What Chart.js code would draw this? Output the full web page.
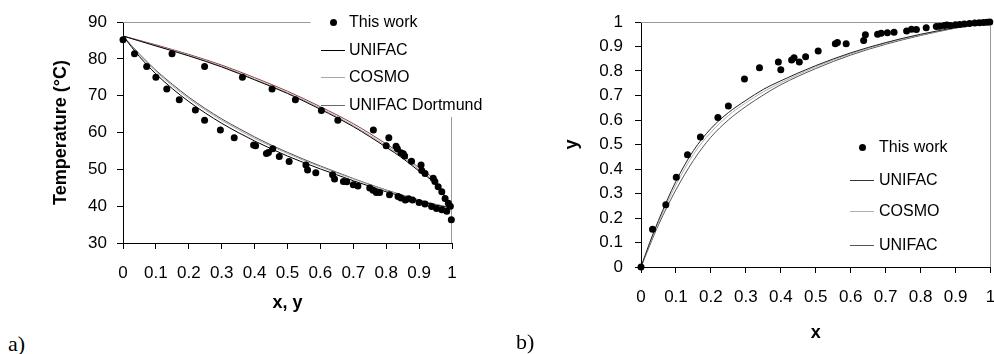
<!DOCTYPE html>
<html>
<head>
<meta charset="utf-8">
<script src="https://cdn.jsdelivr.net/npm/chart.js@4.4.0/dist/chart.umd.min.js"></script>
<style>
body{margin:0;background:#fff;width:994px;height:354px;overflow:hidden;position:relative;font-family:"Liberation Sans",Arial,sans-serif;}
#ca{position:absolute;left:0;top:0;}
#cb{position:absolute;left:490px;top:0;}
.it{position:absolute;white-space:nowrap;font-size:16px;line-height:18px;color:#000;}
.ln{position:absolute;height:1px;width:24px;}
.dt{position:absolute;width:7px;height:7px;border-radius:50%;background:#000;}
.pl{position:absolute;font-family:"Liberation Serif","Times New Roman",serif;font-size:22px;line-height:22px;}
</style>
</head>
<body>
<canvas id="ca" width="470" height="320"></canvas>
<canvas id="cb" width="504" height="354"></canvas>
<div class="pl" style="left:8px;top:333px">a)</div>
<div class="pl" style="left:516px;top:331px">b)</div>
<div id="legends"></div>
<script>
// ---- data: a) T-x-y diagram ----
var tickX = ['0','0.1','0.2','0.3','0.4','0.5','0.6','0.7','0.8','0.9','1'];
var tickT = ['30','40','50','60','70','80','90'];
var tickY = ['0','0.1','0.2','0.3','0.4','0.5','0.6','0.7','0.8','0.9','1'];

var liqX = [0,0.035,0.072,0.100,0.133,0.171,0.220,0.248,0.296,0.338,0.397,0.403,0.436,0.442,0.455,0.475,0.505,0.556,0.561,0.586,0.637,0.643,0.670,0.680,0.700,0.714,0.750,0.760,0.770,0.780,0.810,0.836,0.845,0.858,0.868,0.880,0.900,0.918,0.938,0.953,0.969,0.984,0.998];
var liqT = [85.2,81.4,77.9,75.0,71.8,68.9,66.1,63.3,60.7,58.6,56.6,56.4,54.3,54.6,55.6,53.5,52.1,51.2,49.8,49.1,48.5,47.4,46.7,46.6,45.8,45.5,44.9,44.3,43.7,43.7,43.1,42.6,42.2,41.7,42.0,41.7,41.0,40.6,39.9,39.4,39.0,38.6,36.3];
var vapY = [0.149,0.248,0.363,0.453,0.524,0.603,0.653,0.761,0.808,0.800,0.830,0.834,0.845,0.852,0.856,0.877,0.906,0.908,0.918,0.943,0.948,0.958,0.969,0.979,0.989,0.995];
var vapT = [81.4,77.9,75.0,71.8,68.9,66.0,63.3,60.7,58.6,56.4,56.3,55.6,54.5,54.2,53.6,52.2,51.2,49.7,48.9,47.6,46.7,45.3,43.9,42.1,40.8,40.0];

var bubX = [0,0.05,0.1,0.15,0.2,0.25,0.3,0.35,0.4,0.45,0.5,0.55,0.6,0.65,0.7,0.75,0.8,0.85,0.9,0.95,1];
var bubUnifac = [86.2,80.6,75.9,71.9,68.4,65.3,62.5,60.0,57.7,55.6,53.6,51.8,50.1,48.5,46.9,45.4,43.9,42.6,41.4,40.3,39.5];
var bubCosmo = [86.2,81.1,76.6,72.7,69.2,66.1,63.3,60.8,58.4,56.3,54.3,52.4,50.7,49.0,47.4,45.8,44.3,42.9,41.6,40.5,39.5];
var bubDortmund = [86.2,81.3,76.9,73.1,69.6,66.5,63.7,61.2,58.8,56.6,54.6,52.7,50.9,49.2,47.5,45.9,44.4,43.0,41.7,40.5,39.5];

var dewX = [0,0.1,0.2,0.3,0.4,0.5,0.6,0.7,0.8,0.85,0.9,0.95,1];
var dewUnifac = [86.2,83.5,80.8,77.8,74.3,70.6,66.3,61.6,56.0,53.0,49.5,46.0,39.5];
var dewCosmo = [86.2,83.6,81.0,78.0,74.5,70.8,66.6,61.9,56.4,53.4,49.9,46.3,39.5];
var dewDortmund = [86.2,83.8,81.2,78.3,74.9,71.2,67.0,62.4,56.9,53.9,50.4,46.8,39.5];

// ---- data: b) x-y diagram ----
var expX = [0,0.033,0.071,0.101,0.133,0.170,0.220,0.250,0.296,0.339,0.393,0.400,0.431,0.438,0.453,0.471,0.507,0.556,0.562,0.587,0.637,0.642,0.677,0.687,0.705,0.724,0.760,0.774,0.788,0.816,0.845,0.855,0.868,0.875,0.885,0.900,0.912,0.925,0.940,0.955,0.968,0.980,0.990,0.998];
var expY = [0,0.154,0.254,0.366,0.458,0.531,0.610,0.657,0.767,0.813,0.837,0.805,0.845,0.854,0.837,0.858,0.882,0.911,0.916,0.911,0.925,0.948,0.950,0.954,0.956,0.958,0.963,0.970,0.969,0.977,0.982,0.983,0.986,0.988,0.986,0.989,0.990,0.992,0.994,0.996,0.997,0.998,0.999,1.000];

var eqX = [0,0.025,0.05,0.1,0.15,0.2,0.25,0.3,0.35,0.4,0.5,0.6,0.7,0.8,0.9,1];
var eqUnifac = [0,0.1,0.19,0.35,0.475,0.565,0.63,0.68,0.725,0.76,0.822,0.874,0.916,0.95,0.977,1];
var eqCosmo = [0,0.095,0.182,0.335,0.46,0.55,0.618,0.67,0.715,0.752,0.817,0.87,0.913,0.948,0.976,1];
var eqDortmund = [0,0.088,0.172,0.315,0.435,0.53,0.6,0.655,0.702,0.744,0.81,0.865,0.909,0.945,0.975,1];

function pts(xs, ys){
  return xs.map(function(v, i){ return {x: v, y: ys[i]}; });
}

Chart.defaults.font.family = '"Liberation Sans", Arial, sans-serif';
Chart.defaults.font.size = 17;
Chart.defaults.color = '#000';

var framePlugin = {
  id: 'frame',
  beforeDatasetsDraw: function(chart, args, o){
    var ctx = chart.ctx, ca = chart.chartArea;
    var xs = chart.scales.x, ys = chart.scales.y;
    ctx.save();
    ctx.strokeStyle = o.color;
    ctx.lineWidth = 1;
    ctx.beginPath();
    ctx.moveTo(ca.left, Math.round(ca.top) + 0.5);
    ctx.lineTo(o.topTo == null ? ca.right : xs.getPixelForValue(o.topTo), Math.round(ca.top) + 0.5);
    var rx = Math.round(ca.right) - 0.5;
    ctx.moveTo(rx, o.rightFrom == null ? ca.top : ys.getPixelForValue(o.rightFrom));
    ctx.lineTo(rx, ca.bottom);
    ctx.stroke();
    ctx.restore();
  }
};

function lineSet(data, color){
  return {data: data, showLine: true, borderColor: color, borderWidth: 1, pointRadius: 0,
          cubicInterpolationMode: 'monotone', fill: false};
}
function dotSet(data){
  return {data: data, showLine: false, pointRadius: 3.5, pointHoverRadius: 3.5,
          backgroundColor: '#000', borderWidth: 0, clip: false};
}
function axis(min, max, step, labels, opts){
  return {
    type: 'linear', min: min, max: max,
    ticks: {stepSize: step, padding: opts.pad, autoSkip: false, maxRotation: 0,
            font: {size: 17}, callback: function(v, i){ return labels[i]; }},
    grid: {display: true, drawOnChartArea: false, drawTicks: true, tickLength: 6, color: '#000'},
    border: {display: true, color: '#000', width: 1},
    title: {display: true, text: opts.title, font: {size: 18, weight: 'bold'}, padding: opts.tpad},
    afterFit: opts.fit
  };
}

new Chart(document.getElementById('ca'), {
  type: 'scatter',
  data: {datasets: [
    dotSet(pts(liqX, liqT).concat(pts(vapY, vapT))),
    lineSet(pts(bubX, bubUnifac), '#000'),
    lineSet(pts(bubX, bubCosmo), '#a8a8a8'),
    lineSet(pts(bubX, bubDortmund), '#5a4646'),
    lineSet(pts(dewX, dewUnifac), '#000'),
    lineSet(pts(dewX, dewCosmo), '#a8a8a8'),
    lineSet(pts(dewX, dewDortmund), '#8a3c3c')
  ]},
  options: {
    responsive: false, animation: false, devicePixelRatio: 1,
    layout: {padding: {left: 0, top: 22, right: 18, bottom: 0}},
    plugins: {legend: {display: false}, tooltip: {enabled: false},
              frame: {color: '#9a9a9a', topTo: 0.57, rightFrom: 64.2}},
    scales: {
      x: axis(0, 1, 0.1, tickX, {pad: 14, title: 'x, y', tpad: {top: 0, bottom: 6}, fit: function(s){ s.height = 77; s.paddingLeft = 0; s.paddingRight = 0; }}),
      y: axis(30, 90, 10, tickT, {pad: 10, title: 'Temperature (\u00B0C)', tpad: {top: 50, bottom: 0}, fit: function(s){ s.width = 123; s.paddingTop = 0; s.paddingBottom = 0; }})
    }
  },
  plugins: [framePlugin]
});

new Chart(document.getElementById('cb'), {
  type: 'scatter',
  data: {datasets: [
    dotSet(pts(expX, expY)),
    lineSet(pts(eqX, eqUnifac), '#222'),
    lineSet(pts(eqX, eqCosmo), '#b0b0b0'),
    lineSet(pts(eqX, eqDortmund), '#555')
  ]},
  options: {
    responsive: false, animation: false, devicePixelRatio: 1,
    layout: {padding: {left: 0, top: 22, right: 0, bottom: 0}},
    plugins: {legend: {display: false}, tooltip: {enabled: false},
              frame: {color: '#9a9a9a'}},
    scales: {
      x: axis(0, 1, 0.1, tickX, {pad: 14, title: 'x', tpad: {top: 0, bottom: 10}, fit: function(s){ s.height = 87; s.paddingLeft = 0; s.paddingRight = 0; }}),
      y: axis(0, 1, 0.1, tickY, {pad: 12, title: 'y', tpad: {top: 71, bottom: 0}, fit: function(s){ s.width = 151; s.paddingTop = 0; s.paddingBottom = 0; }})
    }
  },
  plugins: [framePlugin]
});

// ---- legends (HTML text) ----
var legendA = ['This work', 'UNIFAC', 'COSMO', 'UNIFAC Dortmund'];
var legendB = ['This work', 'UNIFAC', 'COSMO', 'UNIFAC'];
var colorsA = [null, '#000', '#a8a8a8', '#6a6a6a'];
var colorsB = [null, '#333', '#b0b0b0', '#555'];

function legend(names, colors, lineX, textX, rows){
  var box = document.getElementById('legends');
  names.forEach(function(n, i){
    var cy = rows[i];
    if (colors[i] == null) {
      var d = document.createElement('div');
      d.className = 'dt';
      d.style.left = (lineX + 8.5) + 'px';
      d.style.top = (cy - 3.5) + 'px';
      box.appendChild(d);
    } else {
      var l = document.createElement('div');
      l.className = 'ln';
      l.style.left = lineX + 'px';
      l.style.top = cy + 'px';
      l.style.background = colors[i];
      box.appendChild(l);
    }
    var t = document.createElement('div');
    t.className = 'it';
    t.textContent = n;
    t.style.left = textX + 'px';
    t.style.top = (cy - 9) + 'px';
    box.appendChild(t);
  });
}
legend(legendA, colorsA, 321, 349, [22, 50, 77, 105]);
legend(legendB, colorsB, 850, 879, [147, 180, 211, 245]);
</script>
</body>
</html>
